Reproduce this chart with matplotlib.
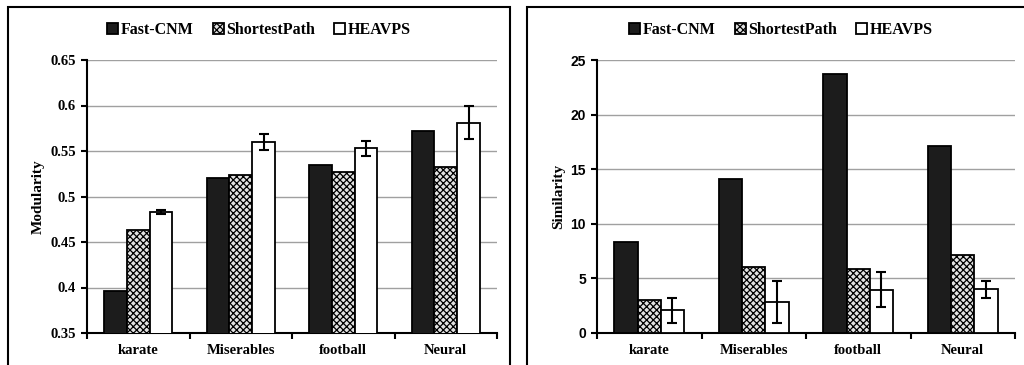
import matplotlib
matplotlib.use("Agg")
import matplotlib.pyplot as plt
import numpy as np
from matplotlib.patches import Rectangle
from matplotlib.ticker import MultipleLocator, FixedLocator, NullFormatter, FuncFormatter

plt.rcParams["font.family"] = ["Liberation Serif"]
plt.rcParams["hatch.linewidth"] = 0.9
plt.rcParams["hatch.color"] = "#8a8a8a"

# 数据
datasets = ["karate", "Miserables", "football", "Neural"]
methods = ["Fast-CNM", "ShortestPath", "HEAVPS"]

mod_fast = [0.396, 0.520, 0.535, 0.572]
mod_short = [0.463, 0.524, 0.527, 0.532]
mod_heavps = [0.483, 0.560, 0.553, 0.581]
mod_heavps_err = [0.002, 0.009, 0.008, 0.018]

sim_fast = [8.3, 14.1, 23.7, 17.1]
sim_short = [3.05, 6.0, 5.9, 7.15]
sim_heavps = [2.1, 2.85, 3.95, 4.0]
sim_heavps_err = [1.15, 1.9, 1.6, 0.8]

fig = plt.figure(figsize=(10.24, 3.65), dpi=100)

# 外框
fig.patches.append(Rectangle((8 / 1024, -0.05), 502 / 1024, 1.05 - 7 / 365, transform=fig.transFigure,
                             fill=False, edgecolor="black", linewidth=1.5))
fig.patches.append(Rectangle((527 / 1024, -0.05), 0.6, 1.05 - 7 / 365, transform=fig.transFigure,
                             fill=False, edgecolor="black", linewidth=1.5))


def draw_panel(ax, fast, short, heavps, err, ylim, step, ylabel, tickfont, ticksize):
    x = np.arange(len(datasets)) + 1
    w = 0.222
    ax.bar(x - w, fast, w, color="#1c1c1c", edgecolor="black",
           linewidth=1.3, label=methods[0], zorder=3)
    ax.bar(x, short, w, color="#e2e2e2", edgecolor="black", hatch="xxxxx",
           linewidth=1.3, label=methods[1], zorder=3)
    ax.bar(x + w, heavps, w, color="white", edgecolor="black",
           linewidth=1.3, label=methods[2], zorder=3)
    ax.errorbar(x + w, heavps, yerr=err, fmt="none", ecolor="black", elinewidth=1.5,
                capsize=3.5, capthick=1.5, zorder=4)
    ax.set_ylim(*ylim)
    ax.set_xlim(0.5, len(datasets) + 0.5)
    ax.yaxis.set_major_locator(MultipleLocator(step))
    ax.yaxis.set_major_formatter(FuncFormatter(lambda v, _: "{:g}".format(round(v, 2))))
    ax.yaxis.grid(True, color="#a0a0a0", linewidth=1.0, zorder=0)
    ax.set_axisbelow(True)
    for s in ["top", "right"]:
        ax.spines[s].set_visible(False)
    for s in ["left", "bottom"]:
        ax.spines[s].set_linewidth(1.5)
    ax.xaxis.set_major_locator(FixedLocator(np.arange(len(datasets) + 1) + 0.5))
    ax.xaxis.set_major_formatter(NullFormatter())
    ax.xaxis.set_minor_locator(FixedLocator(x))
    ax.set_xticklabels(datasets, minor=True, fontsize=10.5, fontweight="bold")
    ax.tick_params(axis="x", which="minor", length=0, pad=8)
    ax.tick_params(axis="x", which="major", length=4, width=1.5, direction="out")
    ax.tick_params(axis="y", length=4, width=1.5, direction="out", pad=4)
    for lab in ax.get_yticklabels():
        lab.set_fontfamily(tickfont)
        lab.set_fontweight("bold")
        lab.set_fontsize(ticksize)
    ax.set_ylabel(ylabel, fontsize=11, fontweight="bold", labelpad=4)


ax1 = fig.add_axes([87 / 1024, 1 - 333 / 365, 410 / 1024, 273 / 365])
draw_panel(ax1, mod_fast, mod_short, mod_heavps, mod_heavps_err, (0.35, 0.65), 0.05,
           "Modularity", "Liberation Serif", 10.5)

ax2 = fig.add_axes([597 / 1024, 1 - 333 / 365, 418 / 1024, 273 / 365])
draw_panel(ax2, sim_fast, sim_short, sim_heavps, sim_heavps_err, (0, 25), 5,
           "Similarity", "Liberation Sans", 10)

for ax, cx in [(ax1, 259 / 1024), (ax2, 781 / 1024)]:
    h, l = ax.get_legend_handles_labels()
    fig.legend(h, l, loc="center", bbox_to_anchor=(cx, 1 - 30 / 365), ncol=3, frameon=False,
               prop={"family": "Liberation Serif", "weight": "bold", "size": 11.5},
               handlelength=0.7, handleheight=0.7, handletextpad=0.15, columnspacing=1.2,
               borderaxespad=0)

fig.savefig("out.png", dpi=100)
